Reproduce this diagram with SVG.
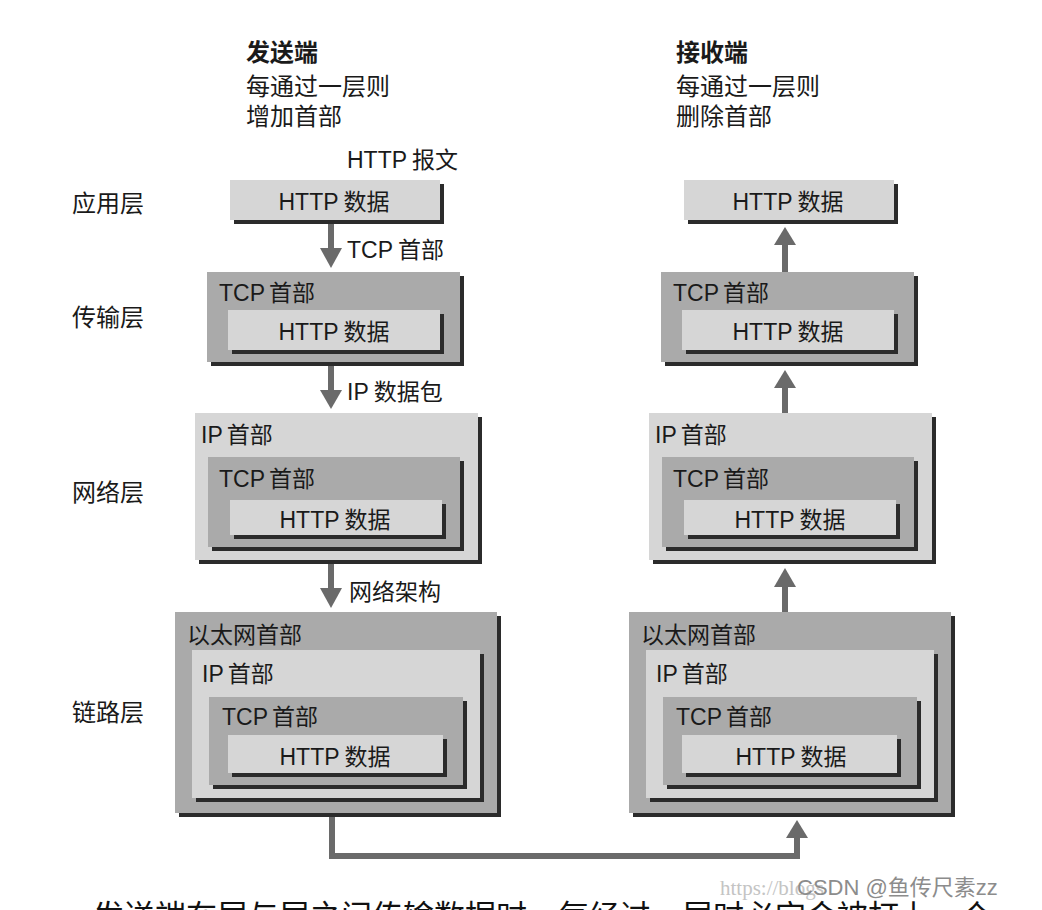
<svg xmlns="http://www.w3.org/2000/svg" width="1042" height="910" viewBox="0 0 1042 910">
<style>
text{font-family:'Liberation Sans','Noto Sans CJK SC',sans-serif;font-size:23px;fill:#1a1a1a}
.hd{font-size:24px}
.b{font-weight:bold}
.lt{fill:#d6d6d6}
.dk{fill:#aaaaaa}
.sh{fill:#2b2b2b}
.ln{stroke:#6a6a6a;stroke-width:6;fill:none}
.ah{fill:#6a6a6a}
.mid{text-anchor:middle}
</style>
<rect width="1042" height="910" fill="#ffffff"/>

<g id="headers">
<text class="hd b" x="246" y="61">发送端</text>
<text class="hd" x="246" y="95">每通过一层则</text>
<text class="hd" x="246" y="125">增加首部</text>
<text class="hd b" x="676" y="61">接收端</text>
<text class="hd" x="676" y="95">每通过一层则</text>
<text class="hd" x="676" y="125">删除首部</text>
<text x="347" y="168">HTTP<tspan dx="5">报文</tspan></text>
</g>

<g id="layer-labels">
<text class="hd" x="72" y="212">应用层</text>
<text class="hd" x="72" y="326">传输层</text>
<text class="hd" x="72" y="501">网络层</text>
<text class="hd" x="72" y="721">链路层</text>
</g>

<!-- Sender side -->
<g id="send-app">
<rect class="sh" x="234" y="184" width="210" height="40"/>
<rect class="lt" x="230" y="180" width="210" height="40"/>
<text class="mid" x="334" y="210">HTTP<tspan dx="5">数据</tspan></text>
</g>

<g id="send-transport">
<rect class="sh" x="211" y="276" width="253" height="90"/>
<rect class="dk" x="207" y="272" width="253" height="90"/>
<text x="219" y="301">TCP<tspan dx="4">首部</tspan></text>
<rect class="sh" x="232" y="314" width="212" height="40"/>
<rect class="lt" x="228" y="310" width="212" height="40"/>
<text class="mid" x="334" y="340">HTTP<tspan dx="5">数据</tspan></text>
</g>

<g id="send-network">
<rect class="sh" x="199" y="417" width="283" height="147"/>
<rect class="lt" x="195" y="413" width="283" height="147"/>
<text x="201" y="443">IP<tspan dx="4">首部</tspan></text>
<rect class="sh" x="212" y="461" width="252" height="90"/>
<rect class="dk" x="208" y="457" width="252" height="90"/>
<text x="219" y="487">TCP<tspan dx="4">首部</tspan></text>
<rect class="sh" x="234" y="504" width="212" height="35"/>
<rect class="lt" x="230" y="500" width="212" height="35"/>
<text class="mid" x="335" y="528">HTTP<tspan dx="5">数据</tspan></text>
</g>

<g id="send-link">
<rect class="sh" x="179" y="616" width="322" height="201"/>
<rect class="dk" x="175" y="612" width="322" height="201"/>
<text x="187" y="643">以太网首部</text>
<rect class="sh" x="196" y="654" width="288" height="148"/>
<rect class="lt" x="192" y="650" width="288" height="148"/>
<text x="202" y="682">IP<tspan dx="4">首部</tspan></text>
<rect class="sh" x="213" y="701" width="254" height="88"/>
<rect class="dk" x="209" y="697" width="254" height="88"/>
<text x="222" y="725">TCP<tspan dx="4">首部</tspan></text>
<rect class="sh" x="232" y="739" width="215" height="38"/>
<rect class="lt" x="228" y="735" width="215" height="38"/>
<text class="mid" x="335" y="765">HTTP<tspan dx="5">数据</tspan></text>
</g>

<!-- Receiver side -->
<g id="recv-app">
<rect class="sh" x="688" y="184" width="210" height="40"/>
<rect class="lt" x="684" y="180" width="210" height="40"/>
<text class="mid" x="788" y="210">HTTP<tspan dx="5">数据</tspan></text>
</g>

<g id="recv-transport">
<rect class="sh" x="665" y="276" width="253" height="90"/>
<rect class="dk" x="661" y="272" width="253" height="90"/>
<text x="673" y="301">TCP<tspan dx="4">首部</tspan></text>
<rect class="sh" x="686" y="314" width="212" height="40"/>
<rect class="lt" x="682" y="310" width="212" height="40"/>
<text class="mid" x="788" y="340">HTTP<tspan dx="5">数据</tspan></text>
</g>

<g id="recv-network">
<rect class="sh" x="653" y="417" width="283" height="147"/>
<rect class="lt" x="649" y="413" width="283" height="147"/>
<text x="655" y="443">IP<tspan dx="4">首部</tspan></text>
<rect class="sh" x="666" y="461" width="252" height="90"/>
<rect class="dk" x="662" y="457" width="252" height="90"/>
<text x="673" y="487">TCP<tspan dx="4">首部</tspan></text>
<rect class="sh" x="688" y="504" width="212" height="35"/>
<rect class="lt" x="684" y="500" width="212" height="35"/>
<text class="mid" x="790" y="528">HTTP<tspan dx="5">数据</tspan></text>
</g>

<g id="recv-link">
<rect class="sh" x="633" y="616" width="322" height="201"/>
<rect class="dk" x="629" y="612" width="322" height="201"/>
<text x="641" y="643">以太网首部</text>
<rect class="sh" x="650" y="654" width="288" height="148"/>
<rect class="lt" x="646" y="650" width="288" height="148"/>
<text x="656" y="682">IP<tspan dx="4">首部</tspan></text>
<rect class="sh" x="667" y="701" width="254" height="88"/>
<rect class="dk" x="663" y="697" width="254" height="88"/>
<text x="676" y="725">TCP<tspan dx="4">首部</tspan></text>
<rect class="sh" x="686" y="739" width="215" height="38"/>
<rect class="lt" x="682" y="735" width="215" height="38"/>
<text class="mid" x="791" y="765">HTTP<tspan dx="5">数据</tspan></text>
</g>

<g id="connectors">
<!-- sender downward arrows -->
<line class="ln" x1="331" y1="224" x2="331" y2="250"/>
<polygon class="ah" points="320,248 342,248 331,268"/>
<line class="ln" x1="331" y1="366" x2="331" y2="392"/>
<polygon class="ah" points="320,390 342,390 331,409"/>
<line class="ln" x1="331" y1="564" x2="331" y2="590"/>
<polygon class="ah" points="320,588 342,588 331,608"/>
<!-- receiver upward arrows -->
<line class="ln" x1="785" y1="243" x2="785" y2="272"/>
<polygon class="ah" points="774,245 796,245 785,227"/>
<line class="ln" x1="785" y1="386" x2="785" y2="413"/>
<polygon class="ah" points="774,388 796,388 785,370"/>
<line class="ln" x1="785" y1="585" x2="785" y2="612"/>
<polygon class="ah" points="774,587 796,587 785,568"/>
<!-- physical link -->
<polyline class="ln" stroke-width="5" points="332,817 332,856 797,856 797,836"/>
<polygon class="ah" points="786,838 808,838 797,820"/>
<text x="347" y="258">TCP<tspan dx="5">首部</tspan></text>
<text x="347" y="400">IP<tspan dx="5">数据包</tspan></text>
<text x="349" y="600">网络架构</text>
</g>

<g id="caption">
<text x="93" y="927" style="font-size:31px;fill:#111">发送端在层与层之间传输数据时，每经过一层时必定会被打上一个</text>
</g>

<g id="watermark">
<text x="720" y="895" style="font-family:'Liberation Serif',serif;font-size:21px;fill:#c4c4c4">https://blogs</text>
<text x="797" y="895" style="font-size:22px;fill:#8c8c8c">CSDN @鱼传尺素zz</text>
</g>
</svg>
